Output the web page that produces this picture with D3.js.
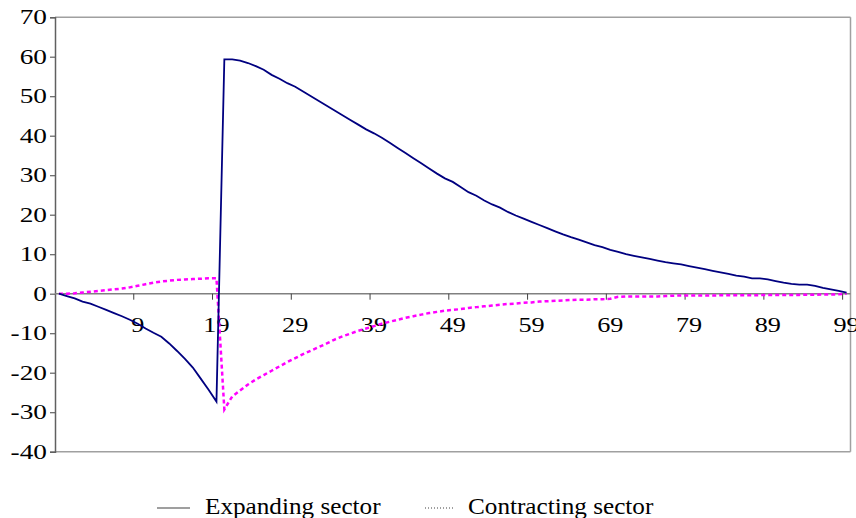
<!DOCTYPE html>
<html>
<head>
<meta charset="utf-8">
<script src="https://cdn.jsdelivr.net/npm/d3@7"></script>
<style>
  html, body { margin: 0; padding: 0; background: #fff; }
  svg { display: block; }
  text { font-family: "Liberation Serif", "Times New Roman", serif; fill: #000; }
</style>
</head>
<body>
<svg id="chart" width="856" height="518"></svg>
<script>
// ---- data ----
const periods = d3.range(0, 101); // 101 categories (label = period - 1)
const xTickLabels = ["9", "19", "29", "39", "49", "59", "69", "79", "89", "99"];
const xTickIndex = [10, 20, 30, 40, 50, 60, 70, 80, 90, 100];
const yTicks = [-40, -30, -20, -10, 0, 10, 20, 30, 40, 50, 60, 70];
const seriesNames = ["Expanding sector", "Contracting sector"];

const expanding = [
  0, -0.6, -1.2, -2.0, -2.5, -3.3, -4.1, -4.9, -5.7, -6.6,
  -7.6, -8.8, -9.9, -10.9, -12.6, -14.5, -16.5, -18.7, -21.5, -24.3,
  -27.3, 59.3, 59.3, 59.0, 58.4, 57.6, 56.7, 55.4, 54.4, 53.3,
  52.4, 51.2, 50.0, 48.8, 47.6, 46.4, 45.2, 44.0, 42.8, 41.6,
  40.6, 39.5, 38.2, 36.9, 35.6, 34.3, 33.0, 31.7, 30.4, 29.2,
  28.3, 27.0, 25.7, 24.8, 23.6, 22.6, 21.8, 20.7, 19.8, 19.0,
  18.2, 17.4, 16.6, 15.8, 15.0, 14.3, 13.7, 13.0, 12.3, 11.8,
  11.1, 10.6, 10.0, 9.6, 9.2, 8.8, 8.4, 8.0, 7.7, 7.4,
  7.0, 6.6, 6.2, 5.8, 5.4, 5.0, 4.6, 4.3, 3.9, 3.9,
  3.6, 3.2, 2.8, 2.5, 2.3, 2.3, 2.0, 1.5, 1.1, 0.7,
  0.3
];
const contracting = [
  0, 0, 0.1, 0.3, 0.5, 0.7, 0.9, 1.1, 1.3, 1.6,
  2.0, 2.4, 2.8, 3.1, 3.3, 3.5, 3.6, 3.7, 3.8, 3.9,
  3.9, -29.3, -26.0, -24.5, -23.0, -21.7, -20.6, -19.5, -18.4, -17.3,
  -16.3, -15.3, -14.4, -13.5, -12.6, -11.6, -10.8, -10.1, -9.4, -8.8,
  -8.2, -7.6, -7.1, -6.6, -6.1, -5.7, -5.3, -4.9, -4.6, -4.3,
  -4.1, -3.9, -3.6, -3.4, -3.2, -3.0, -2.8, -2.6, -2.5, -2.3,
  -2.2, -2.0, -1.9, -1.8, -1.7, -1.6, -1.5, -1.5, -1.4, -1.4,
  -1.3, -0.8, -0.7, -0.7, -0.7, -0.7, -0.7, -0.6, -0.5, -0.45,
  -0.45, -0.45, -0.45, -0.45, -0.4, -0.4, -0.4, -0.4, -0.4, -0.35,
  -0.35, -0.35, -0.3, -0.3, -0.3, -0.25, -0.25, -0.2, -0.2, -0.15,
  0
];

// ---- layout ----
const svg = d3.select("#chart");
const L = 55, R = 850.5, T = 17.2, B = 451.7;
const SERIF = "'Liberation Serif', 'Times New Roman', serif";

const x = d3.scaleBand().domain(periods).range([L, R]).padding(0);
const bw = x.bandwidth();
const cx = i => x(i) + bw / 2;
const y = d3.scaleLinear().domain([-40, 70]).range([B, T]);

// plot frame (top & right & bottom)
svg.append("line").attr("x1", L).attr("x2", R).attr("y1", T).attr("y2", T)
  .attr("stroke", "#a0a0a0").attr("stroke-width", 1.5);
svg.append("line").attr("x1", R).attr("x2", R).attr("y1", T).attr("y2", B)
  .attr("stroke", "#a0a0a0").attr("stroke-width", 1.5);
svg.append("line").attr("x1", L).attr("x2", R).attr("y1", B).attr("y2", B)
  .attr("stroke", "#a0a0a0").attr("stroke-width", 1.5);

// y axis (line + ticks from d3 axis, labels drawn as serif text)
const yAxis = d3.axisLeft(y).tickValues(yTicks).tickSize(5).tickFormat("");
const gy = svg.append("g").attr("transform", `translate(${L},0)`).call(yAxis);
gy.select(".domain").attr("stroke", "#606060").attr("stroke-width", 1.5);
gy.selectAll(".tick line").attr("stroke", "#606060").attr("stroke-width", 1.2);
gy.selectAll(".tick text").remove();
svg.append("g").selectAll("text.ylbl").data(yTicks).join("text").attr("class", "ylbl")
  .attr("transform", d => `translate(${L - 8},${y(d) + 7}) scale(1.3,1)`)
  .attr("text-anchor", "end")
  .style("font-family", SERIF).style("font-size", "21px")
  .text(d => String(d));

// x axis at zero
const x0 = y(0);
const gx = svg.append("g");
gx.append("line").attr("x1", L).attr("x2", R).attr("y1", x0).attr("y2", x0)
  .attr("stroke", "#808080").attr("stroke-width", 1.5);
gx.selectAll("line.tk").data(xTickIndex).join("line").attr("class", "tk")
  .attr("x1", d => x(d)).attr("x2", d => x(d))
  .attr("y1", x0).attr("y2", x0 + 6)
  .attr("stroke", "#404040").attr("stroke-width", 1);
gx.selectAll("text.lbl").data(xTickIndex).join("text").attr("class", "lbl")
  .attr("transform", d => `translate(${cx(d)},${x0 + 38}) scale(1.25,1)`)
  .attr("text-anchor", "middle")
  .style("font-family", SERIF).style("font-size", "21px")
  .text((d, i) => xTickLabels[i]);

// lines
const line = d3.line().x((d, i) => cx(periods[i])).y(d => y(d));
svg.append("path").datum(contracting).attr("d", line)
  .attr("fill", "none").attr("stroke", "#ff00ff").attr("stroke-width", 2.5)
  .attr("stroke-dasharray", "4,3");
svg.append("path").datum(expanding).attr("d", line)
  .attr("fill", "none").attr("stroke", "#000080").attr("stroke-width", 1.8);

// legend
const lg = svg.append("g");
lg.append("line").attr("x1", 157).attr("x2", 190).attr("y1", 508).attr("y2", 508)
  .attr("stroke", "#404040").attr("stroke-width", 1.2);
lg.append("text").attr("transform", "translate(205,514) scale(1.05,1)")
  .style("font-family", SERIF).style("font-size", "24px").text(seriesNames[0]);
lg.append("line").attr("x1", 425).attr("x2", 455).attr("y1", 508).attr("y2", 508)
  .attr("stroke", "#404040").attr("stroke-width", 1.2).attr("stroke-dasharray", "1,2");
lg.append("text").attr("transform", "translate(468,514) scale(1.05,1)")
  .style("font-family", SERIF).style("font-size", "24px").text(seriesNames[1]);
</script>
</body>
</html>
